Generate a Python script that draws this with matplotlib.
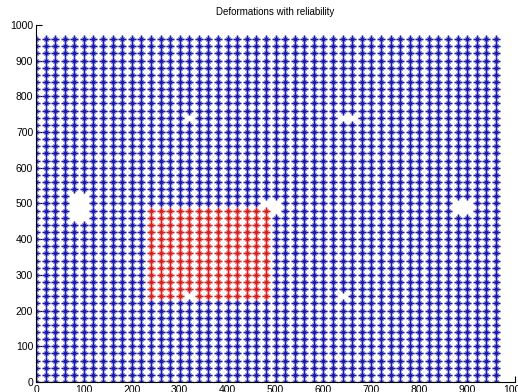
import matplotlib
matplotlib.use('Agg')
import matplotlib.pyplot as plt
import numpy as np

# measurement grid (x and y positions of the points)
grid_x = list(range(0, 961, 20))
grid_y = list(range(0, 961, 20))

# area drawn in red: x0, x1, y0, y1
red_area = [240, 480, 240, 480]

# missing points (holes): x0, x1, y0, y1
holes = [
    [80, 100, 460, 520],
    [480, 500, 500, 500],
    [500, 500, 480, 480],
    [880, 900, 480, 500],
    [320, 320, 740, 740],
    [640, 660, 740, 740],
    [320, 320, 240, 240],
    [640, 640, 240, 240],
]

ticks = list(range(0, 1001, 100))


def draw_points(ax, x, y, color, halo):
    # MATLAB-like '*': a plus with a small x in the middle, slightly blurred
    ax.plot(x, y, linestyle='none', marker='+', color=halo,
            markersize=5.6, markeredgewidth=2.0)
    ax.plot(x, y, linestyle='none', marker='+', color=color,
            markersize=5.6, markeredgewidth=0.9)
    ax.plot(x, y, linestyle='none', marker='x', color=color,
            markersize=2.2, markeredgewidth=0.8)


def main():
    gx, gy = np.meshgrid(grid_x, grid_y)
    gx = gx.ravel()
    gy = gy.ravel()

    keep = np.ones(gx.shape, dtype=bool)
    for x0, x1, y0, y1 in holes:
        keep &= ~((gx >= x0) & (gx <= x1) & (gy >= y0) & (gy <= y1))
    gx, gy = gx[keep], gy[keep]

    x0, x1, y0, y1 = red_area
    red = (gx >= x0) & (gx <= x1) & (gy >= y0) & (gy <= y1)

    plt.rcParams['font.family'] = ['Liberation Sans', 'DejaVu Sans']
    fig = plt.figure(figsize=(5.18, 3.92), dpi=100)
    ax = fig.add_axes([0.0695, 0.0255, 0.925, 0.911])

    draw_points(ax, gx[~red], gy[~red], '#1a1ab0', '#c4c4e6')
    draw_points(ax, gx[red], gy[red], '#d82020', '#f2c4c4')

    ax.set_xlim(0, 1000)
    ax.set_ylim(0, 1000)
    ax.set_xticks(ticks)
    ax.set_yticks(ticks)
    ax.tick_params(direction='in', length=4, labelsize=7.5, pad=2, width=0.8)
    ax.spines['top'].set_visible(False)
    ax.spines['right'].set_visible(False)
    ax.set_title('Deformations with reliability', fontsize=7, pad=7)

    fig.savefig('out.png', dpi=100)


if __name__ == "__main__":
    main()
